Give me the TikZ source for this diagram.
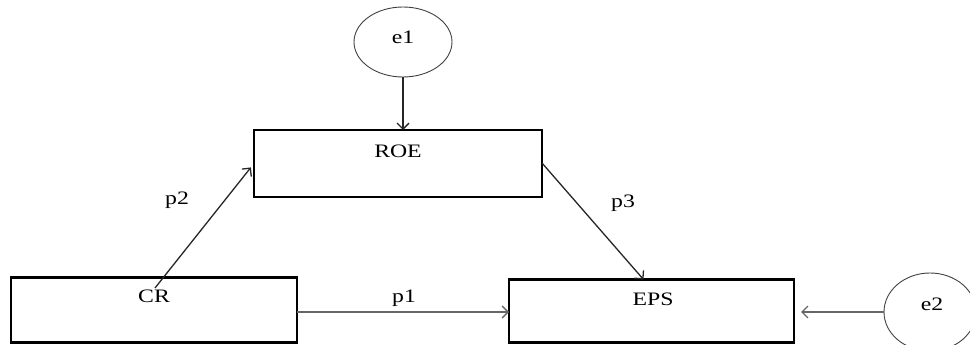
\documentclass[tikz,border=0pt]{standalone}
\usepackage{fontspec}
\setmainfont{Liberation Serif}[FakeStretch=1.25]
\usetikzlibrary{arrows.meta,calc,shapes.geometric}
\begin{document}
\begin{tikzpicture}[x=1pt,y=-1pt,
  every node/.style={inner sep=0pt,outer sep=0pt},
  box/.style={draw=black,line width=2.5pt,rectangle},
  err/.style={draw=black!75,line width=0.9pt,ellipse},
  txt/.style={font=\fontsize{19}{21}\selectfont},
  conn/.style={line width=1.3pt,black!85,-{Straight Barb[length=6pt,width=12pt,line width=1.3pt]}},
  plabel/.style={txt}]
  \useasboundingbox (0,0) rectangle (970,345);
  % latent error terms
  \node[err,minimum width=98pt,minimum height=70pt] (e1) at (403,42) {};
  \node[txt] at (403,37) {e1};
  \node[err,minimum width=92pt,minimum height=78pt] (e2) at (930,312) {};
  \node[txt] at (932,304) {e2};
  % observed variables
  \node[box,minimum width=288pt,minimum height=67pt] (roe) at (398,163.5) {};
  \node[txt] at (398,151) {ROE};
  \node[box,minimum width=286pt,minimum height=65pt] (cr) at (154,310) {};
  \node[txt] at (154,296) {CR};
  \node[box,minimum width=285pt,minimum height=63pt] (eps) at (651.5,311) {};
  \node[txt] at (653,299) {EPS};
  % paths
  \coordinate (p2s) at (155,288);
  \draw[conn] (e1.south) -- (e1.south |- roe.north);
  \draw[conn,shorten >=5pt] (p2s) -- (roe.west);
  \draw[conn] ($(roe.east)+(0,-0.5)$) -- ($(eps.north)+(-8,0)$);
  \draw[conn,black!60] (cr.east |- 0,312) -- (eps.west |- 0,312);
  \draw[conn,black!60,shorten >=7pt] (e2.west) -- (e2.west -| eps.east);
  % path labels
  \node[plabel] at (177,200) {p2};
  \node[plabel] at (623,203) {p3};
  \node[plabel] at (404,298) {p1};
\end{tikzpicture}
\end{document}
